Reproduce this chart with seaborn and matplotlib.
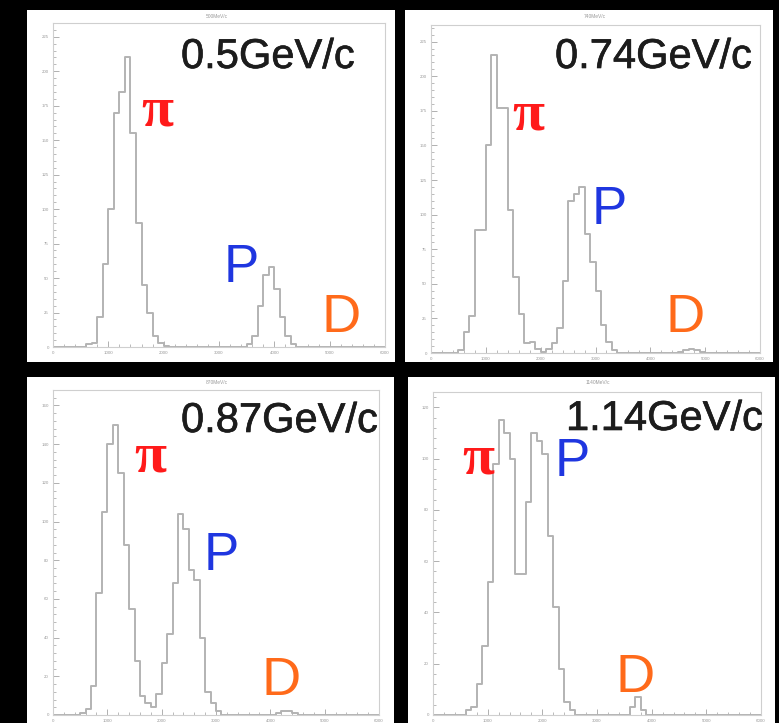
import numpy as np
import pandas as pd
import matplotlib
matplotlib.use("Agg")
import matplotlib.pyplot as plt
import matplotlib.patheffects as pe
from matplotlib.ticker import MultipleLocator
import seaborn as sns

sns.set_theme(style="white")
plt.rcParams['font.family'] = ['Liberation Sans', 'DejaVu Sans']

# ---------------- data (counts per 100-unit bin, 0..6000) ----------------
bin_width = 100
x_min, x_max = 0, 6000

titles = ["500MeV/c", "740MeV/c", "870MeV/c", "1140MeV/c"]
momenta = ["0.5GeV/c", "0.74GeV/c", "0.87GeV/c", "1.14GeV/c"]

# panel 1 : 0.5 GeV/c
p1_start = [600, 3500]
p1_counts = [
    [2, 3, 22, 60, 100, 170, 185, 210, 155, 90, 45, 25, 8, 3, 1],
    [2, 8, 30, 52, 58, 42, 22, 8, 2],
]
# panel 2 : 0.74 GeV/c
p2_start = [500, 2100, 4500]
p2_counts = [
    [2, 15, 27, 89, 89, 150, 215, 177, 177, 103, 55, 28, 7, 8, 3, 1],
    [3, 7, 18, 52, 110, 115, 120, 86, 66, 45, 20, 8, 2],
    [1, 2, 3, 2, 1],
]
# panel 3 : 0.87 GeV/c
p3_start = [500, 4100]
p3_counts = [
    [1, 3, 15, 63, 105, 140, 150, 125, 88, 55, 28, 10, 6, 4, 11, 27, 42, 68,
     104, 96, 75, 70, 40, 12, 6, 2],
    [1, 2, 2, 1],
]
# panel 4 : 1.14 GeV/c
p4_start = [600, 3600]
p4_counts = [
    [2, 3, 12, 27, 52, 98, 115, 110, 100, 55, 55, 83, 110, 107, 102, 70, 42,
     18, 5, 2],
    [3, 7, 2],
]

y_limits = [235, 237, 168, 126]
y_major = [25, 25, 20, 20]

# layout in pixels (left, top, right, bottom)
pads = [(27, 10, 395, 362), (405, 10, 773, 362),
        (27, 377, 394, 723), (408, 377, 775, 723)]
frames = [(53, 23, 385, 347), (431, 25, 760, 353),
          (53, 390, 379, 715), (433, 392, 761, 715)]

W, H = 779, 723
fig = plt.figure(figsize=(W / 100, H / 100), dpi=100, facecolor="black")


def rect(box):
    l, t, r, b = box
    return [l / W, 1 - b / H, (r - l) / W, (b - t) / H]


def fx(x):
    return x / W


def fy(y):
    return 1 - y / H


n_bins = (x_max - x_min) // bin_width
centers = x_min + bin_width * (np.arange(n_bins) + 0.5)

all_starts = [p1_start, p2_start, p3_start, p4_start]
all_counts = [p1_counts, p2_counts, p3_counts, p4_counts]

for i in range(4):
    pad = fig.add_axes(rect(pads[i]), facecolor="white", zorder=0)
    pad.set_xticks([]); pad.set_yticks([])
    for s in pad.spines.values():
        s.set_visible(False)

    counts = np.zeros(len(centers))
    for st, cs in zip(all_starts[i], all_counts[i]):
        k0 = int((st - x_min) / bin_width)
        counts[k0:k0 + len(cs)] = cs
    df = pd.DataFrame({"x": centers, "w": counts})

    ax = fig.add_axes(rect(frames[i]), facecolor="white", zorder=1)
    sns.histplot(data=df, x="x", weights="w", binwidth=bin_width,
                 binrange=(x_min, x_max), element="step",
                 fill=False, color="#b3b3b3", linewidth=1.4, ax=ax)
    ax.set_xlim(x_min, x_max)
    ax.set_ylim(0, y_limits[i])
    ax.set_xlabel(""); ax.set_ylabel("")
    ax.xaxis.set_major_locator(MultipleLocator(1000))
    ax.xaxis.set_minor_locator(MultipleLocator(200))
    ax.yaxis.set_major_locator(MultipleLocator(y_major[i]))
    ax.yaxis.set_minor_locator(MultipleLocator(y_major[i] / 5))
    ax.tick_params(axis="both", which="both", direction="in", colors="#b0b0b0",
                   labelcolor="#9a9a9a", labelsize=3.2, pad=3)
    ax.tick_params(which="major", length=4, width=0.7)
    ax.tick_params(which="minor", length=2, width=0.6)
    ax.tick_params(axis="both", which="both", bottom=True, left=True)
    for s in ax.spines.values():
        s.set_color("#cfcfcf"); s.set_linewidth(0.8)

    cx = (pads[i][0] + pads[i][2]) / 2 + 6
    fig.text(fx(cx), fy(pads[i][1] + 6), titles[i], fontsize=3.5,
             color="#9a9a9a", ha="center", va="center")

# big momentum labels (left x, baseline y)
mom_pos = [(183, 68), (557, 68), (183, 432), (568, 430)]
for (x, y), s in zip(mom_pos, momenta):
    fig.text(fx(x - 2), fy(y), s, fontsize=30, color="#1c1c1c",
             ha="left", va="baseline", zorder=5,
             path_effects=[pe.withStroke(linewidth=0.45, foreground="#1c1c1c")])

# particle labels
pi_pos = [(157, 112), (528, 115), (150, 457), (478, 460)]
p_pos = [(227, 282), (595, 224), (207, 570), (558, 476)]
d_pos = [(325, 332), (668, 332), (265, 695), (619, 692)]

for x, y in pi_pos:
    fig.text(fx(x), fy(y), "π", fontsize=42, color="#ff1a1a",
             family=["Liberation Serif", "DejaVu Serif"], fontweight="bold",
             ha="center", va="center", zorder=5)
for x, y in p_pos:
    fig.text(fx(x - 3), fy(y), "P", fontsize=38, color="#1f36e0",
             ha="left", va="baseline", zorder=5)
for x, y in d_pos:
    fig.text(fx(x - 3), fy(y), "D", fontsize=39, color="#ff6a1a",
             ha="left", va="baseline", zorder=5)

fig.savefig("out.png", dpi=100, facecolor="black")
